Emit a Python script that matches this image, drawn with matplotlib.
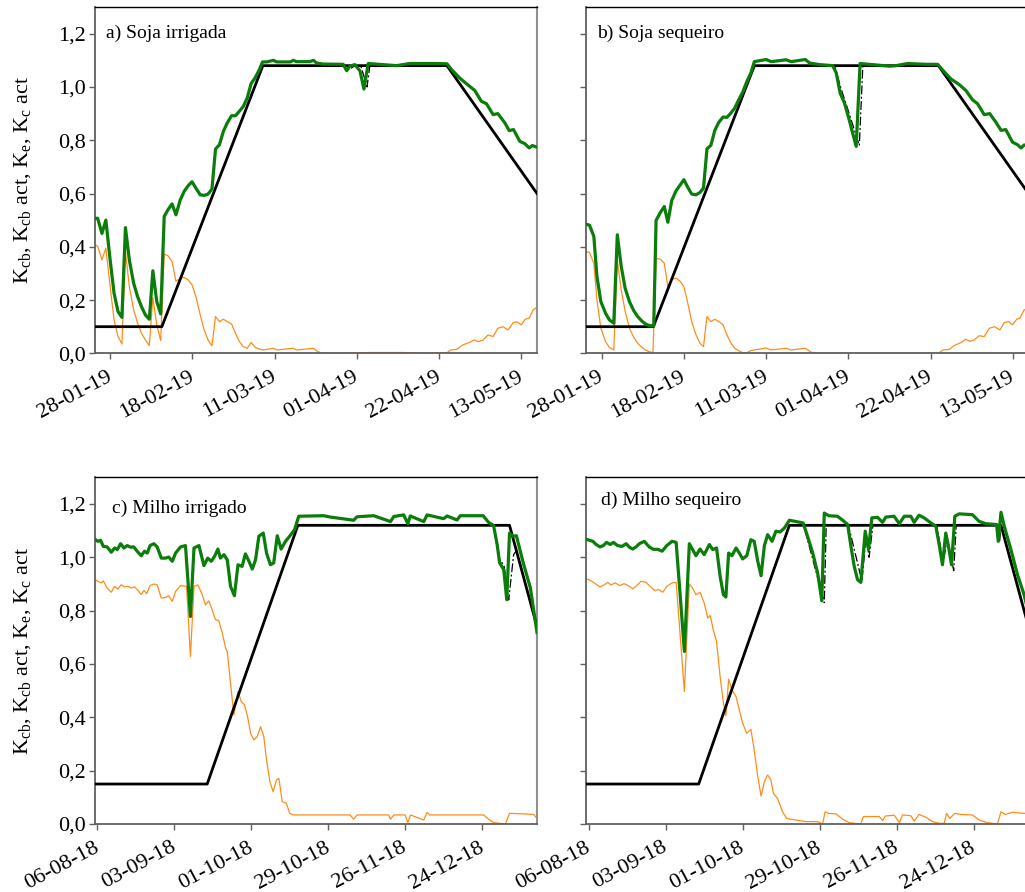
import numpy as np
import matplotlib
matplotlib.use("Agg")
import matplotlib.pyplot as plt
import matplotlib.dates as mdates
import matplotlib.transforms as mtrans
from matplotlib.ticker import FuncFormatter

plt.rcParams['font.family'] = ['Liberation Serif', 'DejaVu Serif']
plt.rcParams['mathtext.fontset'] = 'custom'
plt.rcParams['mathtext.rm'] = 'Liberation Serif'
plt.rcParams['mathtext.it'] = 'Liberation Serif:italic'

''' Data: day offsets (d) from a reference date, values read off the chart '''
# soja: d = 0 -> 28-01-19
soja_ref = '2019-01-28'
soja_kcb_d = [-4, 13.2, 39, 86, 109]
soja_kcb_v = [0.1, 0.1, 1.08, 1.08, 0.60]

# a) Soja irrigada
a_kc_d = [-4, -3.2, -2.1, -1.1, 0, 1, 2, 3, 3.9, 4.9, 6, 7, 8, 9, 10, 10.9, 11.9, 12.9, 13.8, 14.8,
          15.8, 16.8, 17.9, 18.9, 19.9, 20.9, 21.9, 23, 24, 25, 26, 26.9, 27.9, 28.9, 29.9, 31, 32, 33,
          34, 35, 36, 37, 38.1, 38.9, 40, 41.7, 42.5, 46, 46.8, 47.6, 51, 51.9, 52.7, 54.4, 59.5, 60.4,
          61.2, 62.5, 63.8, 64.8, 65.9, 73.1, 76.5, 83.3, 86, 87.2, 89.3, 91, 93.1, 94.8, 96.1, 97.8,
          99, 100.8, 101.9, 103, 104.6, 105.9, 107, 107.8, 109]
a_kc_v = [0.507, 0.507, 0.45, 0.50, 0.35, 0.225, 0.157, 0.135, 0.472, 0.35, 0.263, 0.213, 0.175, 0.144,
          0.128, 0.31, 0.194, 0.148, 0.514, 0.54, 0.561, 0.52, 0.576, 0.608, 0.629, 0.644, 0.62, 0.595,
          0.593, 0.598, 0.617, 0.767, 0.783, 0.833, 0.865, 0.892, 0.892, 0.909, 0.927, 0.959, 1.013,
          1.034, 1.065, 1.094, 1.094, 1.10, 1.094, 1.094, 1.10, 1.095, 1.095, 1.10, 1.09, 1.086, 1.085,
          1.061, 1.078, 1.084, 1.06, 0.992, 1.088, 1.08, 1.088, 1.088, 1.087, 1.065, 1.033, 1.012, 0.987,
          0.946, 0.937, 0.896, 0.90, 0.865, 0.836, 0.84, 0.796, 0.787, 0.771, 0.78, 0.774]
a_ke_d = [-4, -3.2, -2.1, -1.1, 0, 1, 2, 3, 3.9, 4.9, 6, 7, 8, 9, 10, 10.9, 11.9, 12.9, 13.8, 14.8,
          15.8, 16.8, 17.9, 18.9, 19.9, 20.9, 21.9, 23, 24, 25, 26, 26.9, 27.9, 28.9, 29.9, 31, 32, 33,
          34, 35, 36, 37, 38.1, 39, 41.7, 42.5, 46.8, 47.6, 51.9, 53, 54.4, 60, 66, 75, 80, 86, 87, 88.5,
          90, 91.7, 93, 94, 95.2, 96.5, 97.8, 99, 100.3, 101.6, 102.9, 103.9, 105, 106, 107, 108, 109]
a_ke_v = [0.407, 0.403, 0.351, 0.395, 0.25, 0.125, 0.063, 0.035, 0.382, 0.25, 0.163, 0.113, 0.075, 0.05,
          0.029, 0.209, 0.107, 0.048, 0.373, 0.366, 0.345, 0.27, 0.282, 0.285, 0.276, 0.257, 0.213, 0.144,
          0.088, 0.05, 0.028, 0.138, 0.119, 0.128, 0.119, 0.11, 0.075, 0.044, 0.025, 0.019, 0.041, 0.023,
          0.016, 0.0125, 0.019, 0.0125, 0.019, 0.0125, 0.019, 0.006, 0.0, 0.0, 0.003, 0.003, 0.0, 0.002,
          0.0125, 0.015, 0.031, 0.041, 0.05, 0.044, 0.05, 0.069, 0.063, 0.094, 0.10, 0.088, 0.115, 0.118,
          0.107, 0.128, 0.132, 0.163, 0.173]
a_kcba_d = [-4, 13.2, 39, 60, 61, 62.5, 64, 65.6, 66.3, 86, 109]
a_kcba_v = [0.1, 0.1, 1.08, 1.08, 1.065, 1.08, 1.08, 1.0, 1.08, 1.08, 0.60]

# b) Soja sequeiro
b_kc_d = [-4, -3.1, -2, -1.2, -0.2, 1, 2, 3.1, 4, 5, 6, 7.1, 8.2, 9.2, 10.2, 11.2, 12.2, 13.3, 13.9, 15,
          16, 16.9, 17.9, 19, 20.1, 21, 22, 23, 24.1, 25.1, 26, 26.9, 27.9, 28.9, 29.9, 31, 32, 33, 34,
          35, 36, 37.1, 38.1, 39, 42, 43.3, 47.1, 48.4, 52, 53.1, 55.6, 59, 59.9, 60.9, 62, 63.1, 64.1,
          65, 66, 73.5, 75.2, 78.1, 82.8, 85.8, 87.1, 89.2, 91.3, 93, 94.7, 96, 97.7, 99.1, 100.7, 102,
          103.2, 104.9, 106.2, 107.1, 107.9, 109]
b_kc_v = [0.485, 0.481, 0.439, 0.288, 0.194, 0.15, 0.125, 0.113, 0.445, 0.326, 0.244, 0.194, 0.16, 0.138,
          0.122, 0.11, 0.104, 0.103, 0.499, 0.529, 0.551, 0.492, 0.574, 0.61, 0.633, 0.652, 0.623, 0.598,
          0.595, 0.604, 0.62, 0.768, 0.781, 0.837, 0.867, 0.887, 0.886, 0.902, 0.921, 0.952, 0.98, 1.021,
          1.053, 1.095, 1.103, 1.095, 1.102, 1.095, 1.103, 1.09, 1.084, 1.08, 1.053, 0.977, 0.94, 0.883,
          0.827, 0.777, 1.088, 1.078, 1.08, 1.088, 1.085, 1.085, 1.063, 1.03, 1.009, 0.987, 0.952, 0.937,
          0.896, 0.90, 0.867, 0.837, 0.84, 0.793, 0.783, 0.771, 0.782, 0.78]
b_ke_d = [-4, -3.1, -2, -1.2, -0.2, 1, 2, 3.1, 4, 5, 6, 7.1, 8.2, 9.2, 10.2, 11.2, 12.2, 13.1, 13.9, 15,
          16, 16.9, 17.9, 19, 20.1, 21, 22, 23, 24.1, 25.1, 26, 26.9, 27.9, 28.9, 29.9, 31, 32, 33, 34,
          35, 36, 37.1, 38.1, 39, 42, 43.3, 47.1, 48.4, 52, 53.5, 55.6, 86, 87.1, 88.8, 90, 91.7, 93, 94,
          95.1, 96.4, 97.7, 99, 100.3, 101.7, 102.8, 103.9, 104.9, 106, 106.8, 107.9, 109]
b_ke_v = [0.382, 0.378, 0.338, 0.2, 0.094, 0.044, 0.021, 0.0125, 0.348, 0.238, 0.157, 0.094, 0.06, 0.038,
          0.023, 0.0125, 0.006, 0.0025, 0.357, 0.353, 0.338, 0.25, 0.278, 0.282, 0.27, 0.25, 0.188, 0.119,
          0.069, 0.038, 0.025, 0.138, 0.119, 0.128, 0.119, 0.107, 0.069, 0.038, 0.019, 0.01, 0.0025,
          0.0025, 0.01, 0.0125, 0.02, 0.0125, 0.019, 0.0125, 0.019, 0.004, 0.0, 0.0, 0.0125, 0.015, 0.029,
          0.04, 0.053, 0.045, 0.05, 0.066, 0.063, 0.094, 0.10, 0.088, 0.115, 0.119, 0.107, 0.128, 0.132,
          0.163, 0.17]
b_kcba_d = [-4, 13.2, 39, 59.5, 61, 63, 65.8, 66.7, 86, 109]
b_kcba_v = [0.1, 0.1, 1.08, 1.08, 1.0, 0.91, 0.78, 1.08, 1.08, 0.60]

# milho: d = 0 -> 06-08-18
milho_ref = '2018-08-06'
milho_kcb_d = [-1, 40, 73, 150, 160]
milho_kcb_v = [0.15, 0.15, 1.12, 1.12, 0.74]

# c) Milho irrigado
c_kc_d = [-1, 0.2, 1.2, 2.2, 3.6, 5.1, 6.3, 7.3, 8.5, 9.7, 10.9, 12.1, 13.3, 14.5, 16, 17.2, 18.2, 19.2,
          20.6, 21.8, 23.3, 24.8, 26, 27.3, 28.5, 30.3, 32.1, 33.9, 35.2, 37, 38.8, 40.2, 41.5, 42.7,
          43.9, 44.8, 46.1, 47.3, 48.5, 49.9, 51.2, 52.7, 53.9, 55.2, 56.4, 57.6, 58.8, 60.4, 61.6, 63,
          64.2, 65.5, 66.9, 68.5, 70, 71.8, 73.3, 82.4, 84.8, 93.3, 94.5, 100.6, 106.7, 107.9, 111.5, 113,
          113.9, 118.8, 120, 126, 127.3, 130.9, 132.1, 140.4, 142.4, 144.2, 145.5, 146.4, 147.9, 149, 150,
          151.3, 152.5, 155, 157.6, 160]
c_kc_v = [1.069, 1.06, 1.064, 1.041, 1.039, 1.019, 1.035, 1.029, 1.051, 1.035, 1.044, 1.038, 1.039, 1.023,
          1.006, 1.023, 1.016, 1.044, 1.051, 1.039, 0.997, 0.997, 1.001, 0.985, 1.016, 1.039, 1.044, 0.778,
          1.035, 1.044, 0.969, 0.997, 0.985, 1.004, 1.031, 0.997, 1.01, 0.991, 0.891, 0.856, 0.972, 0.966,
          1.013, 0.985, 0.956, 0.991, 1.079, 1.091, 1.016, 0.972, 0.979, 1.081, 1.031, 1.06, 1.079, 1.104,
          1.154, 1.156, 1.151, 1.139, 1.152, 1.156, 1.134, 1.153, 1.159, 1.126, 1.155, 1.134, 1.159, 1.145,
          1.155, 1.14, 1.156, 1.156, 1.131, 1.119, 1.048, 0.979, 0.954, 0.841, 1.091, 1.079, 1.081, 0.979,
          0.885, 0.718]
c_ke_d = [-1, 0.2, 1.5, 2.2, 3.6, 5.1, 6.3, 7.5, 8.7, 9.9, 11.1, 12.4, 13.6, 14.8, 16, 17, 18, 19.2, 20.6,
          21.8, 23.3, 24.8, 26, 27.3, 28.5, 30.3, 32.5, 33.9, 35.2, 36.6, 38.2, 39.4, 40.6, 41.8, 43, 44.2,
          45.5, 46.7, 47.3, 48.5, 49.7, 51.2, 52.4, 53.6, 54.8, 55.8, 57, 58.2, 59.4, 60.6, 61.6, 62.8, 64,
          65.2, 66.1, 67.3, 68.8, 70, 71.3, 92, 93.3, 94.5, 106, 106.7, 107.9, 112, 113, 114, 118.8, 120,
          121, 140.6, 142.4, 144.2, 148.5, 150, 155, 158.8, 160]
c_ke_v = [0.919, 0.91, 0.904, 0.912, 0.885, 0.869, 0.891, 0.881, 0.897, 0.889, 0.891, 0.885, 0.889, 0.876,
          0.86, 0.876, 0.864, 0.894, 0.9, 0.897, 0.847, 0.85, 0.856, 0.835, 0.872, 0.894, 0.891, 0.628,
          0.891, 0.897, 0.86, 0.822, 0.837, 0.803, 0.766, 0.763, 0.716, 0.66, 0.647, 0.528, 0.409, 0.497,
          0.459, 0.447, 0.397, 0.34, 0.315, 0.328, 0.365, 0.328, 0.24, 0.159, 0.121, 0.165, 0.171, 0.084,
          0.078, 0.04, 0.034, 0.034, 0.018, 0.034, 0.034, 0.018, 0.034, 0.034, 0.005, 0.034, 0.015, 0.043,
          0.034, 0.034, 0.018, 0.005, 0.0, 0.04, 0.038, 0.036, 0.021]
c_kcba_d = [-1, 40, 73, 144.2, 146.5, 148, 149.7, 151.5, 152.5, 160]
c_kcba_v = [0.15, 0.15, 1.12, 1.12, 0.99, 0.97, 0.84, 1.01, 1.025, 0.74]

# d) Milho sequeiro
d_kc_d = [-1.2, 0.2, 1.5, 2.7, 4.1, 5.3, 6.5, 7.8, 9, 10.5, 12.1, 13.6, 14.8, 16, 17.2, 18.4, 20.2, 22,
          23.5, 25.1, 26.7, 28.4, 30.3, 31.8, 33.3, 34.8, 36.6, 37.8, 39, 40.5, 42, 43.9, 45.1, 46.5,
          47.8, 49, 49.9, 50.9, 52.1, 53.6, 54.8, 56, 57.5, 59, 60.2, 61.5, 62.7, 63.9, 65.1, 66.7, 68.1,
          69.6, 71.2, 73, 76, 78, 79.6, 81.5, 83.3, 84.8, 85.7, 87.3, 90.5, 92.4, 94.2, 95.4, 96.6, 97.8,
          99, 100.6, 101.8, 103, 105.1, 106.9, 108.1, 111.1, 113, 114.8, 117.2, 118.4, 120.2, 122, 124.5,
          126.3, 127.5, 128.7, 129.9, 130.9, 132, 133.2, 134.8, 139.6, 142, 144.5, 148.4, 149, 150, 151.2,
          153.6, 156, 158.4, 160]
d_kc_v = [1.069, 1.064, 1.06, 1.048, 1.039, 1.044, 1.056, 1.048, 1.056, 1.044, 1.041, 1.051, 1.038, 1.031,
          1.039, 1.051, 1.06, 1.039, 1.03, 1.03, 1.023, 1.044, 1.06, 1.056, 0.854, 0.647, 1.051, 1.029,
          1.006, 1.031, 1.01, 1.048, 1.029, 1.035, 0.929, 0.86, 0.851, 1.016, 1.006, 1.035, 1.016, 0.994,
          1.006, 1.066, 1.06, 0.985, 0.931, 1.044, 1.085, 1.06, 1.098, 1.095, 1.11, 1.139, 1.133, 1.129,
          1.079, 1.016, 0.941, 0.837, 1.166, 1.156, 1.154, 1.139, 1.123, 1.041, 0.966, 0.916, 0.906, 1.098,
          1.029, 1.148, 1.15, 1.131, 1.151, 1.154, 1.126, 1.154, 1.154, 1.131, 1.158, 1.148, 1.129, 1.116,
          1.048, 0.972, 1.091, 1.041, 0.972, 1.154, 1.163, 1.16, 1.135, 1.126, 1.123, 1.06, 1.169, 1.116,
          1.029, 0.935, 0.86, 0.79]
d_ke_d = [-1.2, 0.2, 2, 4.1, 5.7, 6.9, 8.1, 9.7, 11.2, 12.9, 14.8, 16, 17.2, 19, 20.8, 22, 23.9, 25.5,
          26.9, 28.4, 30.3, 31.8, 33.3, 34.8, 36.6, 37.8, 39, 40.5, 42, 43.3, 44.2, 45.3, 46.5, 47.8, 49,
          49.9, 50.9, 52.1, 53.6, 54.8, 56, 57.5, 59, 60.2, 61.5, 62.7, 63.9, 65.1, 66.3, 67.2, 68.7, 70.5,
          72, 75.4, 79, 83.3, 85.1, 86, 87.3, 90, 92.4, 94.8, 99, 99.9, 105.7, 107, 107.9, 111.2, 113,
          114.2, 117.2, 118.4, 120.2, 122.7, 125.1, 127.5, 129.3, 130.2, 131.4, 133.2, 135.4, 139.6, 142.1,
          145.1, 148.7, 150, 151.5, 154.2, 158.4, 160]
d_ke_v = [0.92, 0.916, 0.904, 0.889, 0.897, 0.906, 0.897, 0.904, 0.894, 0.901, 0.891, 0.882, 0.891, 0.91,
          0.907, 0.894, 0.876, 0.879, 0.869, 0.891, 0.904, 0.906, 0.703, 0.497, 0.9, 0.885, 0.86, 0.869,
          0.829, 0.772, 0.782, 0.728, 0.685, 0.553, 0.454, 0.406, 0.543, 0.503, 0.478, 0.428, 0.378, 0.34,
          0.355, 0.278, 0.178, 0.105, 0.159, 0.184, 0.165, 0.115, 0.096, 0.046, 0.021, 0.015, 0.009, 0.009,
          0.0, 0.046, 0.04, 0.038, 0.018, 0.005, 0.0, 0.028, 0.028, 0.013, 0.03, 0.033, 0.005, 0.034, 0.031,
          0.011, 0.036, 0.025, 0.009, 0.0025, 0.0025, 0.04, 0.021, 0.04, 0.036, 0.034, 0.015, 0.005, 0.0,
          0.046, 0.036, 0.044, 0.04, 0.04]
d_kcba_d = [-1, 40, 73, 78.2, 85.7, 86.4, 94.5, 99.4, 100.9, 102, 103.4, 126.6, 129, 130.4, 132.8, 133.7,
            149, 149.5, 150, 160]
d_kcba_v = [0.15, 0.15, 1.12, 1.12, 0.83, 1.12, 1.12, 0.91, 1.08, 1.0, 1.12, 1.12, 0.98, 1.07, 0.95, 1.12,
            1.12, 1.06, 1.12, 0.74]

titles = ['a) Soja irrigada', 'b) Soja sequeiro', 'c) Milho irrigado', 'd) Milho sequeiro']
soja_ticks = ['2019-01-28', '2019-02-18', '2019-03-11', '2019-04-01', '2019-04-22', '2019-05-13']
milho_ticks = ['2018-08-06', '2018-09-03', '2018-10-01', '2018-10-29', '2018-11-26', '2018-12-24']

ylab = r'K$_{\mathrm{cb}}$, K$_{\mathrm{cb}}$ act, K$_{\mathrm{e}}$, K$_{\mathrm{c}}$ act'


def to_dates(ref, d):
	return mdates.datestr2num(ref) + np.array(d, dtype=float)


def panel(ax, ref, kcb_d, kcb_v, kcba_d, kcba_v, kc_d, kc_v, ke_d, ke_v, xlim, ticks, title, tpos, left):
	ax.plot(to_dates(ref, ke_d), ke_v, color='#ff8c1a', lw=0.9, zorder=2)
	ax.plot(to_dates(ref, kcb_d), kcb_v, color='black', lw=2.0, zorder=3)
	ax.plot(to_dates(ref, kcba_d), kcba_v, color='black', lw=0.9, ls=(0, (7, 2, 1.5, 2)), zorder=4)
	ax.plot(to_dates(ref, kc_d), kc_v, color='#0a7d0a', lw=2.3, zorder=5)

	ax.set_xlim(to_dates(ref, xlim))
	ax.set_ylim(0, 1.3)
	ax.set_yticks(np.arange(0, 1.21, 0.2))
	ax.yaxis.set_major_formatter(FuncFormatter(lambda v, p: ('%.1f' % v).replace('.', ',')))
	ax.set_xticks(mdates.datestr2num(ticks))
	ax.xaxis.set_major_formatter(mdates.DateFormatter('%d-%m-%y'))
	ax.tick_params(direction='out', length=4, width=1, color='#606060', labelsize=16)
	ax.tick_params(axis='y', pad=2)
	ax.tick_params(axis='x', pad=6)
	# rotated date labels, nudged a bit left of their tick
	shift = mtrans.ScaledTranslation(-4 / 100, 0, ax.figure.dpi_scale_trans)
	for lab in ax.get_xticklabels():
		lab.set_rotation(28)
		lab.set_ha('right')
		lab.set_rotation_mode('anchor')
		lab.set_transform(lab.get_transform() + shift)

	for s in ['left', 'bottom']:
		ax.spines[s].set_color('#606060')
		ax.spines[s].set_linewidth(1.3)
	ax.spines['right'].set_color('#909090')
	ax.spines['right'].set_linewidth(1.5)
	ax.spines['top'].set_color('black')
	ax.spines['top'].set_linewidth(1.0)

	ax.text(tpos[0], tpos[1], title, transform=ax.transAxes, fontsize=14, va='center', ha='left')
	if left:
		ax.set_ylabel(ylab, fontsize=16)
		ax.yaxis.set_label_coords(-0.138, 0.5)
	else:
		ax.set_yticklabels([])


''' Figure, axes placed by hand (right panels run past the edge) '''
fig = plt.figure(figsize=(10.25, 8.92), dpi=100)
w, h = 0.4317, 0.3882
ax_a = fig.add_axes([0.0922, 0.6039, w, h])
ax_b = fig.add_axes([0.5717, 0.6039, w, h])
ax_c = fig.add_axes([0.0922, 0.0762, w, 0.3887])
ax_d = fig.add_axes([0.5717, 0.0762, w, 0.3887])

panel(ax_a, soja_ref, soja_kcb_d, soja_kcb_v, a_kcba_d, a_kcba_v, a_kc_d, a_kc_v, a_ke_d, a_ke_v,
      [-4, 109], soja_ticks, titles[0], (0.026, 0.925), True)
panel(ax_b, soja_ref, soja_kcb_d, soja_kcb_v, b_kcba_d, b_kcba_v, b_kc_d, b_kc_v, b_ke_d, b_ke_v,
      [-4, 109], soja_ticks, titles[1], (0.025, 0.925), False)
panel(ax_c, milho_ref, milho_kcb_d, milho_kcb_v, c_kcba_d, c_kcba_v, c_kc_d, c_kc_v, c_ke_d, c_ke_v,
      [-1, 160], milho_ticks, titles[2], (0.04, 0.911), True)
panel(ax_d, milho_ref, milho_kcb_d, milho_kcb_v, d_kcba_d, d_kcba_v, d_kc_d, d_kc_v, d_ke_d, d_ke_v,
      [-1, 160], milho_ticks, titles[3], (0.035, 0.934), False)

fig.savefig('out.png', dpi=100)
